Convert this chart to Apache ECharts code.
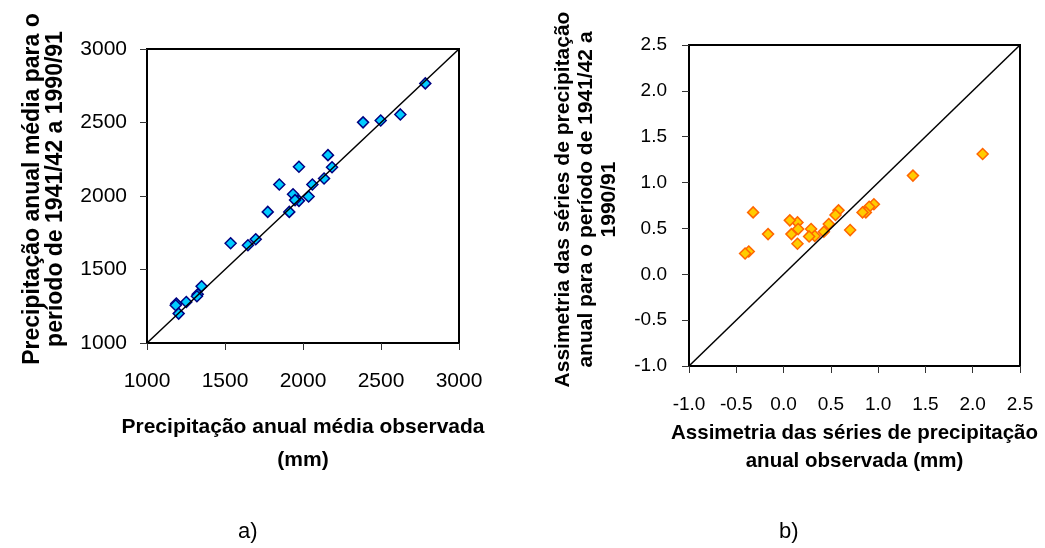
<!DOCTYPE html>
<html>
<head>
<meta charset="utf-8">
<script src="https://cdn.jsdelivr.net/npm/echarts@6/dist/echarts.min.js"></script>
<style>
  html, body { margin: 0; padding: 0; background: #fff; }
  #chart { width: 1045px; height: 548px; }
</style>
</head>
<body>
<div id="chart"></div>
<script>
// a) precipitação média: observada (x) vs. período 1941/42-1990/91 (y)
const precipObs = [2784, 2385, 2498, 2624, 2160, 1974, 2186, 2135, 2060, 1848, 1936, 2036, 1974, 1949,
  1912, 1774, 1697, 1647, 1536, 1350, 1325, 1320, 1252, 1188, 1184, 1203]
const precipPer = [2766, 2501, 2514, 2555, 2278, 2199, 2196, 2119, 2078, 2078, 2012, 1997, 1967, 1972,
  1892, 1892, 1706, 1665, 1679, 1386, 1331, 1318, 1279, 1268, 1257, 1200]
// b) assimetria: observada (x) vs. período (y)
const skewObs = [2.105, 1.368, 0.955, 0.905, 0.870, 0.835, 0.581, 0.549, 0.478, 0.426, 0.704, 0.291,
  0.330, 0.270, 0.147, 0.066, 0.154, 0.083, 0.147, -0.164, -0.322, -0.368, -0.407]
const skewPer = [1.312, 1.076, 0.763, 0.737, 0.675, 0.675, 0.697, 0.646, 0.548, 0.464, 0.482, 0.493,
  0.417, 0.413, 0.566, 0.588, 0.493, 0.438, 0.333, 0.438, 0.675, 0.249, 0.227]
// linha 1:1
const diagA = [1000, 3000]
const diagB = [-1, 2.5]

const FONT = 'Liberation Sans, Arial, sans-serif'

function pairs (xs, ys) {
  return xs.map((x, i) => [x, ys[i]])
}

function valAxis (idx, min, max, step, fontSize, margin, fmt) {
  return {
    type: 'value',
    gridIndex: idx,
    min: min,
    max: max,
    interval: step,
    axisLine: { show: true, onZero: false, lineStyle: { color: '#000', width: 2 } },
    axisTick: { show: true, inside: false, length: 7, lineStyle: { color: '#333', width: 1 } },
    axisLabel: { color: '#000', fontSize: fontSize, fontFamily: FONT, margin: margin, formatter: fmt },
    splitLine: { show: false },
    nameLocation: 'middle',
    nameTextStyle: { color: '#000', fontWeight: 'bold', fontFamily: FONT }
  }
}

let myChart = echarts.init(document.getElementById('chart'))
const fmtA = v => String(v)
const fmtB = v => v.toFixed(1)

const xA = valAxis(0, 1000, 3000, 500, 21, 28, fmtA)
xA.name = 'Precipitação anual média observada\n(mm)'
xA.nameGap = 68
xA.nameTextStyle.fontSize = 21
xA.nameTextStyle.lineHeight = 33

const yA = valAxis(0, 1000, 3000, 500, 21, 20, fmtA)
yA.name = 'Precipitação anual média para o\nperíodo de 1941/42 a 1990/91'
yA.nameGap = 80
yA.nameTextStyle.fontSize = 23
yA.nameTextStyle.lineHeight = 23
yA.nameTextStyle.padding = [0, 0, 0, 14]

const xB = valAxis(1, -1, 2.5, 0.5, 19, 29, fmtB)
xB.name = 'Assimetria das séries de precipitação\nanual observada (mm)'
xB.nameGap = 51
xB.nameTextStyle.fontSize = 20.5
xB.nameTextStyle.lineHeight = 28

const yB = valAxis(1, -1, 2.5, 0.5, 19, 22, fmtB)
yB.name = 'Assimetria das séries de precipitação\nanual para o período de 1941/42 a\n1990/91'
yB.nameGap = 68
yB.nameTextStyle.fontSize = 21
yB.nameTextStyle.lineHeight = 23
yB.nameTextStyle.padding = [0, 0, 0, 12]

myChart.setOption({
  backgroundColor: '#fff',
  animation: false,
  textStyle: { fontFamily: FONT },
  grid: [
    { left: 147, top: 49, width: 312, height: 294, show: true, borderColor: '#000', borderWidth: 2 },
    { left: 689, top: 45, width: 331, height: 321, show: true, borderColor: '#000', borderWidth: 2 }
  ],
  xAxis: [xA, xB],
  yAxis: [yA, yB],
  graphic: [
    { type: 'text', left: 238, top: 521, style: { text: 'a)', fontSize: 22, fontFamily: FONT, fill: '#000' } },
    { type: 'text', left: 779, top: 521, style: { text: 'b)', fontSize: 22, fontFamily: FONT, fill: '#000' } }
  ],
  series: [
    {
      type: 'line',
      xAxisIndex: 0,
      yAxisIndex: 0,
      data: pairs(diagA, diagA),
      symbol: 'none',
      lineStyle: { color: '#000', width: 1.5 },
      silent: true
    },
    {
      type: 'scatter',
      xAxisIndex: 0,
      yAxisIndex: 0,
      data: pairs(precipObs, precipPer),
      symbol: 'diamond',
      symbolSize: 11,
      itemStyle: { color: '#00CCFF', borderColor: '#000080', borderWidth: 1.5, opacity: 1 }
    },
    {
      type: 'line',
      xAxisIndex: 1,
      yAxisIndex: 1,
      data: pairs(diagB, diagB),
      symbol: 'none',
      lineStyle: { color: '#000', width: 1.5 },
      silent: true
    },
    {
      type: 'scatter',
      xAxisIndex: 1,
      yAxisIndex: 1,
      data: pairs(skewObs, skewPer),
      symbol: 'diamond',
      symbolSize: 11,
      itemStyle: { color: '#FFCC00', borderColor: '#FF6600', borderWidth: 1.5, opacity: 1 }
    }
  ]
})
</script>
</body>
</html>
